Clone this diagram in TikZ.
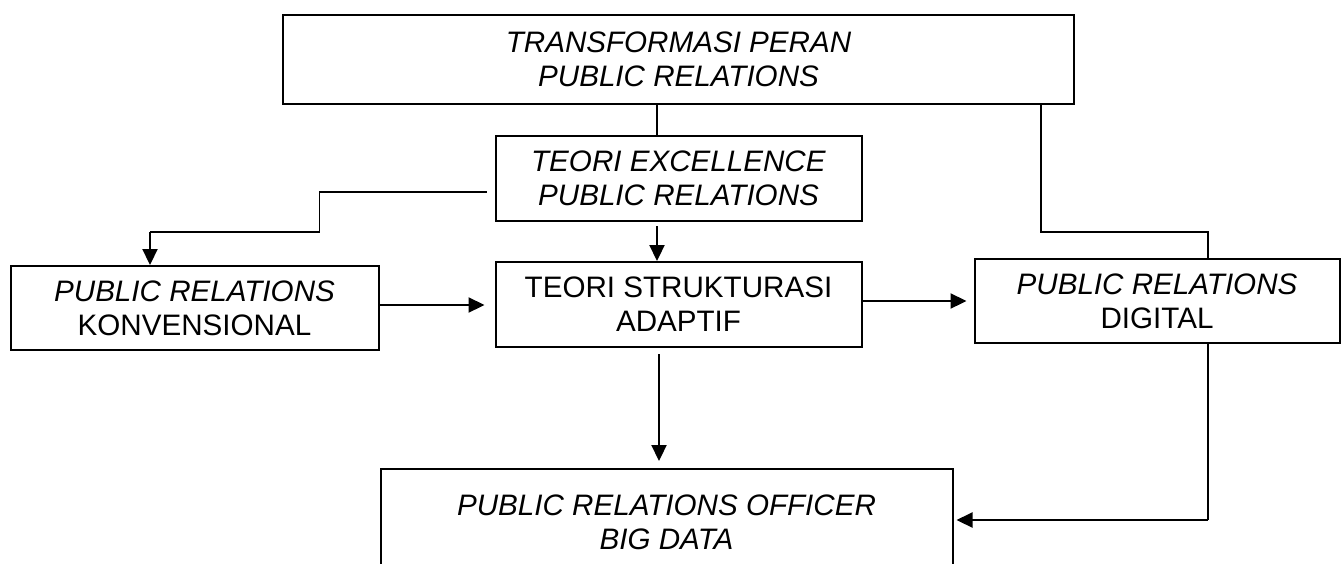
\documentclass[tikz,border=0pt]{standalone}
\usepackage{fontspec}
\setmainfont{Liberation Sans}
\usetikzlibrary{arrows.meta, positioning}

\begin{document}
\begin{tikzpicture}[
  box/.style={draw,line width=1pt,align=center,minimum width=183pt,minimum height=42.5pt,
    font=\fontsize{14.8pt}{17pt}\selectfont},
  link/.style={line width=0.65pt},
  arr/.style={line width=1.1pt,-{Triangle[length=8pt,width=7.5pt]}}
]
\useasboundingbox (0,0) rectangle (671.5pt,-281.5pt);

\node[box,minimum width=395.5pt,minimum height=44.5pt] (TR) at (339.25pt,-29.75pt) {\textit{TRANSFORMASI PERAN}\\\textit{PUBLIC RELATIONS}};
\node[box,below=15pt of TR] (TE) {\textit{TEORI EXCELLENCE}\\\textit{PUBLIC RELATIONS}};
\node[box,below=19.5pt of TE] (TS) {TEORI STRUKTURASI\\ADAPTIF};
\node[box,minimum width=184pt,minimum height=42pt,left=57.5pt of TS,yshift=-1.75pt] (PK) {\textit{PUBLIC RELATIONS}\\KONVENSIONAL};
\node[box,minimum width=182.5pt,minimum height=42pt,right=55.5pt of TS,yshift=1.75pt] (PD) {\textit{PUBLIC RELATIONS}\\DIGITAL};
\node[box,minimum width=286pt,minimum height=53.5pt,below=60pt of TS,xshift=-6pt] (BD) {\textit{PUBLIC RELATIONS OFFICER}\\\textit{BIG DATA}};

\draw[link] ([xshift=-10.75pt]TR.south) -- ([xshift=-10.75pt]TE.north);
\draw[link] ([xshift=181.25pt]TR.south) -- ++(0,-63.5pt) -| ([xshift=25.5pt]PD.north);

\draw[link,shorten <=4pt] ([yshift=-6.75pt]TE.west) -- ++(-87.5pt,0) -- ++(0,-20pt) coordinate (k1);
\coordinate (k2) at ([xshift=-22.25pt]PK.north);
\draw[link] (k1) -- (k1 -| k2);
\draw[arr] (k1 -| k2) -- (k2);

\draw[arr,shorten <=2pt] ([xshift=-10.75pt]TE.south) -- ([xshift=-10.75pt]TS.north);
\draw[arr,shorten >=5pt] ([yshift=1.5pt]PK.east) -- ([yshift=1.5pt]PK.east -| TS.west);
\draw[arr,shorten >=3.5pt] ([yshift=1.75pt]TS.east) -- ([yshift=1.75pt]TS.east -| PD.west);
\draw[arr,shorten <=3pt,shorten >=3.5pt] ([xshift=-9.75pt]TS.south) -- ([xshift=-9.75pt]TS.south |- BD.north);

\coordinate (d1) at ([xshift=25.5pt]PD.south);
\coordinate (d2) at ([yshift=1.25pt]BD.east);
\draw[link] (d1) -- (d1 |- d2);
\draw[arr,shorten >=1.5pt] (d1 |- d2) -- (d2);
\end{tikzpicture}
\end{document}
